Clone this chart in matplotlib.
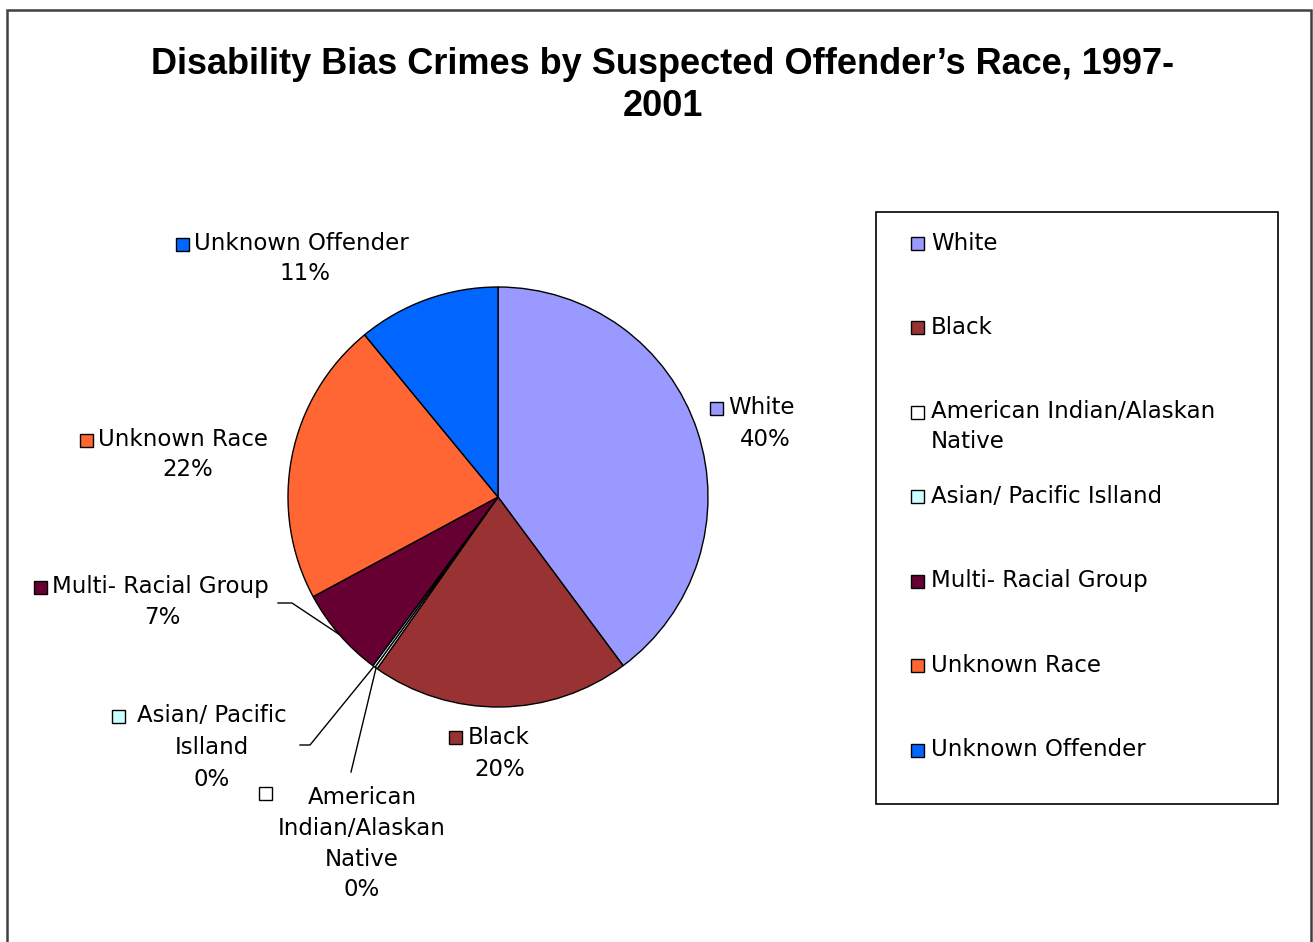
import matplotlib
matplotlib.use("Agg")
import matplotlib.pyplot as plt
from matplotlib.patches import Rectangle
import numpy as np

# ---- data ----
categories = ["White", "Black", "American Indian/Alaskan Native", "Asian/ Pacific Islland",
              "Multi- Racial Group", "Unknown Race", "Unknown Offender"]
values = [40.0, 20.0, 0.2, 0.2, 7.0, 22.0, 11.0]
pct_labels = ["40%", "20%", "0%", "0%", "7%", "22%", "11%"]
colors = ["#9999FF", "#993333", "#FFFFFF", "#CCFFFF", "#660033", "#FF6633", "#0066FF"]
legend_labels = ["White", "Black", "American Indian/Alaskan\nNative", "Asian/ Pacific Islland",
                 "Multi- Racial Group", "Unknown Race", "Unknown Offender"]
pie_label_text = ["White", "Black", "American\nIndian/Alaskan\nNative", "Asian/ Pacific\nIslland",
                  "Multi- Racial Group", "Unknown Race", "Unknown Offender"]

W, H = 1313, 942
def Y(py):
    return H - py

fig = plt.figure(figsize=(W / 100, H / 100), dpi=100)
ax = fig.add_axes([0, 0, 1, 1])

FONT = "DejaVu Sans"
FS = 16.5
SQ = 13

# pie
cx, cy, r = 498, Y(497), 210
wedges, _ = ax.pie(values, colors=colors, startangle=90, counterclock=False,
                   center=(cx, cy), radius=r, frame=True,
                   wedgeprops=dict(edgecolor="black", linewidth=1.0))
ax.set_xlim(0, W)
ax.set_ylim(0, H)
ax.set_aspect("auto")
ax.axis("off")

# outer border
ax.add_patch(Rectangle((7, -20), 1304, Y(10) + 20, fill=False, edgecolor="#404040", lw=1.8))

# title
ax.text(663, Y(85.5), "Disability Bias Crimes by Suspected Offender\u2019s Race, 1997-\n2001",
        ha="center", va="center", fontsize=26, fontweight="bold", family="Liberation Sans",
        linespacing=1.29)

def mid_point(w, frac=1.0):
    a = np.deg2rad((w.theta1 + w.theta2) / 2)
    return cx + frac * r * np.cos(a), cy + frac * r * np.sin(a)

# data-label layout
label_layout = {
    0: dict(sq=(716, 408), tx=(764, 408), pct=(765, 440)),
    1: dict(sq=(455, 737), tx=(501, 737), pct=(500, 770)),
    2: dict(sq=(265, 793), tx=(362, 797), pct=(362, 890)),
    3: dict(sq=(118, 716), tx=(212, 716), pct=(212, 779)),
    4: dict(sq=(40, 587), tx=(164, 587), pct=(162, 618)),
    5: dict(sq=(86, 440), tx=(188, 440), pct=(188, 470)),
    6: dict(sq=(182, 244), tx=(305, 244), pct=(305, 274)),
}
for i, lay in label_layout.items():
    sx, sy = lay["sq"]
    ax.add_patch(Rectangle((sx - SQ / 2, Y(sy) - SQ / 2), SQ, SQ, facecolor=colors[i],
                           edgecolor="black", lw=1.0))
    lines = pie_label_text[i].split("\n")
    tx, ty = lay["tx"]
    if len(lines) == 1:
        ax.text(sx + SQ / 2 + 6, Y(ty), lines[0], ha="left", va="center", fontsize=FS, family=FONT)
    else:
        for k, ln in enumerate(lines):
            ax.text(tx, Y(ty + 31.5 * k), ln, ha="center", va="center", fontsize=FS, family=FONT)
    px, py = lay["pct"]
    ax.text(px, Y(py), pct_labels[i], ha="center", va="center", fontsize=FS, family=FONT)

# leader lines
x0, y0 = mid_point(wedges[4])
ax.plot([278, 292, x0], [Y(603), Y(603), y0], color="black", lw=1.0)
x0, y0 = mid_point(wedges[3])
ax.plot([300, 310, x0], [Y(745), Y(745), y0], color="black", lw=1.0)
x0, y0 = mid_point(wedges[2])
ax.plot([351, x0], [Y(772), y0], color="black", lw=1.0)

# legend box
ax.add_patch(Rectangle((876, Y(804)), 1278 - 876, 804 - 212, fill=False, edgecolor="black", lw=1.2))
for i, lab in enumerate(legend_labels):
    yy = 243 + 84.5 * i
    ax.add_patch(Rectangle((911, Y(yy) - SQ / 2), SQ, SQ, facecolor=colors[i], edgecolor="black", lw=1.0))
    for k, ln in enumerate(lab.split("\n")):
        ax.text(931, Y(yy + 29 * k), ln, ha="left", va="center", fontsize=FS, family=FONT)

fig.savefig("out.png", dpi=100)
